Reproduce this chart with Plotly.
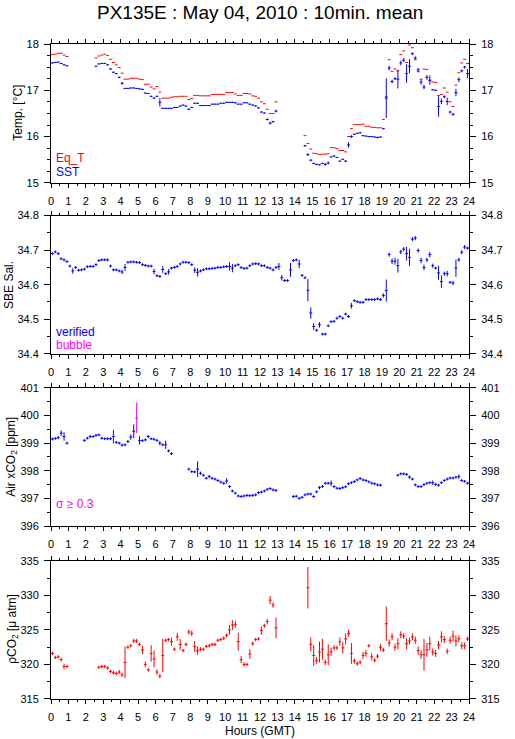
import plotly.graph_objects as go

N = None

# ---------------- data (10-minute means, 144 per day) ----------------
# time axis: centre of each 10-min interval, hours GMT
n_slots = 144
hours = [(i + 0.5) / 6 for i in range(n_slots)]

# Panel 1: equilibrator temperature and SST [degC], one row per hour
eq_t = [
    17.77, 17.78, 17.80, 17.80, 17.76, 17.73,
    N, N, N, N, N, N,
    N, N, N, 17.70, 17.74, 17.76,
    17.78, 17.75, 17.67, 17.60, 17.55, 17.49,
    17.37, 17.24, 17.24, 17.26, 17.26, 17.26,
    17.24, 17.23, 17.13, 17.13, 17.07, 17.03,
    17.08, 16.96, 16.83, 16.83, 16.83, 16.85,
    16.86, 16.86, 16.87, 16.87, 16.87, 16.80,
    16.82, 16.89, 16.89, 16.88, 16.88, 16.88,
    16.88, 16.91, 16.91, 16.91, 16.91, 16.91,
    16.95, 16.95, 16.95, 16.92, 16.89, 16.89,
    16.93, 16.93, 16.92, 16.88, 16.87, 16.83,
    16.75, 16.71, 16.59, 16.50, 16.50, 16.75,
    N, N, N, N, N, N,
    N, N, N, 16.02, 15.85, 15.73,
    15.64, 15.63, 15.61, 15.62, 15.62, 15.63,
    15.76, 15.76, 15.74, 15.70, 15.70, 15.67,
    16.00, 16.17, 16.26, 16.26, 16.26, 16.27,
    16.22, 16.22, 16.20, 16.20, 16.19, 16.19,
    16.37, 16.86, 17.66, 17.41, 17.46, 17.42,
    17.77, 17.85, 17.60, 17.98, 17.92, 17.66,
    17.40, 17.24, 17.46, 17.45, 17.21, 17.18,
    17.17, 16.89, 16.91, 17.05, 16.96, 16.75,
    16.65, 17.11, 17.38, 17.59, 17.67, 17.58,
]

sst = [
    17.59, 17.60, 17.61, 17.58, 17.55, 17.53,
    N, N, N, N, N, N,
    N, N, N, 17.52, 17.57, 17.58,
    17.58, 17.55, 17.46, 17.39, 17.36, 17.28,
    17.15, 17.04, 17.04, 17.05, 17.05, 17.04,
    17.03, 17.02, 16.94, 16.93, 16.87, 16.83,
    16.87, 16.74, 16.61, 16.61, 16.61, 16.61,
    16.63, 16.63, 16.66, 16.68, 16.66, 16.59,
    16.63, 16.72, 16.72, 16.67, 16.67, 16.67,
    16.67, 16.70, 16.70, 16.70, 16.72, 16.72,
    16.74, 16.74, 16.74, 16.73, 16.70, 16.70,
    16.73, 16.73, 16.70, 16.68, 16.66, 16.62,
    16.53, 16.51, 16.37, 16.29, 16.32, 16.55,
    N, N, N, N, N, N,
    N, N, N, 15.80, 15.61, 15.49,
    15.42, 15.40, 15.39, 15.42, 15.40, 15.43,
    15.56, 15.58, 15.55, 15.47, 15.51, 15.47,
    15.82, 16.00, 16.05, 16.07, 16.08, 16.02,
    16.01, 16.00, 16.00, 15.99, 15.98, 15.99,
    16.17, 16.83, 17.48, 17.19, 17.25, 17.24,
    17.59, 17.65, 17.36, 17.52, 17.79, 17.70,
    17.44, 17.18, 17.07, 17.28, 17.22, 17.01,
    17.00, 16.65, 16.76, 16.86, 16.76, 16.53,
    16.48, 16.95, 17.23, 17.42, 17.50, 17.36,
]

sst_sd = [
    .012, .012, .012, .012, .012, .012,
    0, 0, 0, 0, 0, 0,
    0, 0, 0, .012, .012, .012,
    .012, .012, .015, .012, .012, .02,
    .03, .012, .012, .012, .012, .012,
    .012, .012, .012, .012, .012, .012,
    .012, .09, .012, .012, .012, .012,
    .012, .012, .012, .012, .012, .02,
    .012, .012, .012, .012, .012, .012,
    .012, .012, .012, .012, .012, .012,
    .012, .012, .012, .012, .012, .012,
    .012, .012, .012, .012, .012, .012,
    .012, .012, .02, .03, .02, .03,
    0, 0, 0, 0, 0, 0,
    0, 0, 0, .02, .03, .02,
    .012, .012, .012, .012, .03, .03,
    .012, .012, .012, .012, .012, .02,
    .06, .03, .012, .012, .012, .012,
    .012, .012, .012, .012, .02, .012,
    .012, .43, .05, .04, .03, .2,
    .05, .04, .2, .15, .03, .03,
    .04, .06, .05, .05, .1, .012,
    .012, .22, .06, .03, .08, .03,
    .03, .08, .05, .03, .03, .1,
]

# Panel 2: SBE salinity
sal = [
    34.690, 34.695, 34.690, 34.675, 34.672, 34.667,
    34.654, 34.640, 34.650, 34.642, 34.643, 34.645,
    34.652, 34.653, 34.653, 34.658, 34.670, 34.672,
    34.672, 34.672, 34.654, 34.643, 34.643, 34.640,
    34.637, 34.650, 34.665, 34.666, 34.666, 34.665,
    34.664, 34.658, 34.656, 34.654, 34.654, 34.638,
    34.626, 34.624, 34.644, 34.632, 34.637, 34.648,
    34.650, 34.653, 34.660, 34.665, 34.665, 34.664,
    34.658, 34.642, 34.636, 34.640, 34.643, 34.646,
    34.646, 34.647, 34.648, 34.650, 34.650, 34.652,
    34.653, 34.653, 34.648, 34.655, 34.658, 34.650,
    34.647, 34.648, 34.655, 34.660, 34.661, 34.660,
    34.655, 34.655, 34.650, 34.648, 34.643, 34.650,
    34.653, 34.620, 34.612, 34.612, 34.643, 34.670,
    34.672, 34.660, 34.627, 34.620, 34.584, 34.518,
    34.479, 34.468, 34.484, 34.457, 34.457, 34.481,
    34.493, 34.494, 34.503, 34.508, 34.503, 34.515,
    34.508, 34.539, 34.554, 34.551, 34.549, 34.549,
    34.557, 34.557, 34.557, 34.557, 34.559, 34.557,
    34.569, 34.583, 34.687, 34.668, 34.668, 34.655,
    34.695, 34.703, 34.690, 34.679, 34.732, 34.735,
    34.699, 34.670, 34.650, 34.672, 34.687, 34.655,
    34.648, 34.634, 34.609, 34.632, 34.632, 34.607,
    34.605, 34.648, 34.672, 34.694, 34.709, 34.706,
]

sal_sd = [
    .004, .004, .004, .004, .004, .004,
    .004, .008, .004, .004, .004, .004,
    .004, .004, .004, .004, .004, .004,
    .004, .004, .004, .004, .004, .004,
    .006, .01, .004, .004, .004, .004,
    .004, .004, .004, .004, .004, .008,
    .004, .004, .01, .004, .008, .004,
    .004, .004, .004, .004, .004, .004,
    .004, .008, .012, .004, .004, .004,
    .004, .004, .004, .004, .004, .004,
    .004, .012, .012, .004, .004, .004,
    .004, .004, .004, .004, .004, .004,
    .004, .004, .004, .004, .004, .004,
    .01, .008, .004, .004, .02, .004,
    .004, .012, .004, .004, .032, .016,
    .01, .004, .008, .004, .004, .004,
    .004, .004, .004, .004, .004, .004,
    .004, .008, .004, .004, .004, .004,
    .004, .004, .004, .004, .004, .004,
    .006, .032, .006, .008, .01, .02,
    .006, .006, .02, .025, .006, .006,
    .006, .008, .008, .006, .008, .006,
    .004, .02, .018, .006, .008, .004,
    .006, .025, .006, .006, .006, .004,
]

# Panel 3: atmospheric xCO2 [ppm]
xco2 = [
    399.15, 399.17, 399.20, 399.36, 399.24, 399.00,
    N, N, N, N, N, 399.10,
    399.18, 399.24, 399.24, 399.28, 399.30, 399.18,
    399.16, 399.16, 399.16, 399.24, 399.03, 399.00,
    398.93, 398.94, 399.06, 399.22, 399.43, 399.91,
    399.10, 399.09, 399.12, 399.24, 399.16, 399.14,
    399.10, 399.00, 398.94, 398.94, 398.72, 398.62,
    N, N, N, N, N, 398.06,
    397.97, 397.96, 398.06, 397.91, 397.84, 397.73,
    397.79, 397.73, 397.70, 397.65, 397.59, 397.55,
    397.63, 397.43, 397.27, 397.19, 397.09, 397.07,
    397.09, 397.11, 397.10, 397.11, 397.13, 397.21,
    397.23, 397.27, 397.33, 397.36, 397.31, 397.29,
    N, N, N, N, N, 397.07,
    397.08, 397.00, 397.04, 397.13, 397.16, 397.16,
    397.07, 397.24, 397.39, 397.43, 397.55, 397.55,
    397.55, 397.43, 397.37, 397.36, 397.39, 397.42,
    397.53, 397.57, 397.61, 397.67, 397.72, 397.67,
    397.65, 397.60, 397.55, 397.53, 397.49, 397.48,
    N, N, N, N, N, 397.84,
    397.89, 397.89, 397.87, 397.77, 397.70, 397.49,
    397.43, 397.43, 397.50, 397.55, 397.57, 397.57,
    397.51, 397.48, 397.57, 397.65, 397.70, 397.74,
    397.74, 397.77, 397.79, 397.65, 397.62, 397.55,
]

xco2_sd = [
    .05, .05, .06, .1, .15, .05,
    0, 0, 0, 0, 0, .05,
    .05, .06, .05, .05, .05, .05,
    .05, .05, .05, .25, .05, .05,
    .05, .05, .06, .1, .25, .55,
    .15, .05, .05, .06, .05, .05,
    .05, .08, .05, .15, .05, .05,
    0, 0, 0, 0, 0, .05,
    .05, .05, .28, .06, .05, .05,
    .06, .05, .05, .05, .05, .05,
    .1, .05, .05, .05, .05, .05,
    .05, .05, .05, .05, .05, .05,
    .05, .05, .05, .05, .05, .05,
    0, 0, 0, 0, 0, .05,
    .05, .05, .05, .05, .05, .05,
    .05, .05, .06, .05, .05, .05,
    .1, .05, .05, .05, .05, .05,
    .05, .05, .05, .05, .05, .05,
    .05, .05, .05, .05, .05, .05,
    0, 0, 0, 0, 0, .05,
    .05, .05, .05, .06, .05, .05,
    .05, .05, .05, .05, .05, .08,
    .05, .05, .05, .05, .05, .05,
    .05, .05, .08, .05, .05, .05,
]
sigma_limit = 0.3

# Panel 4: seawater pCO2 [uatm]
pco2 = [
    321.6, 321.0, 321.1, 320.7, 319.7, 319.7,
    N, N, N, N, N, N,
    N, N, N, N, 319.6, 319.7,
    319.7, 319.5, 319.0, 318.8, 318.7, 318.9,
    318.5, 320.3, 322.5, 322.7, 323.4, 323.4,
    322.9, 322.1, 320.0, 319.2, 321.6, 320.8,
    318.9, 318.3, 321.3, 323.5, 323.6, 323.3,
    322.2, 324.0, 322.9, 322.0, 322.9, 324.7,
    324.5, 322.6, 322.0, 322.2, 322.2, 322.6,
    322.7, 322.9, 322.9, 323.5, 323.6, 323.8,
    324.2, 325.0, 325.7, 325.8, 323.3, 320.7,
    320.0, 320.0, 321.5, 323.0, 323.6, 323.7,
    324.9, 325.6, 326.2, 329.3, 328.6, 325.3,
    N, N, N, N, N, N,
    N, N, N, N, 331.1, 322.9,
    321.3, 320.6, 321.8, 322.2, 320.3, 321.4,
    321.8, 322.4, 322.4, 323.3, 322.4, 323.7,
    324.5, 321.6, 320.5, 320.1, 320.3, 321.3,
    321.6, 322.7, 321.1, 320.6, 321.2, 322.5,
    322.1, 325.9, 323.1, 324.0, 322.5, 323.0,
    324.3, 324.1, 323.0, 323.4, 324.0, 323.5,
    322.0, 321.4, 321.4, 322.1, 323.0, 321.8,
    321.6, 322.8, 324.0, 323.6, 321.9, 323.5,
    324.1, 323.4, 323.7, 322.7, 322.7, 323.7,
]

pco2_sd = [
    .25, .25, .25, .3, .4, .25,
    0, 0, 0, 0, 0, 0,
    0, 0, 0, 0, .25, .25,
    .25, .25, .25, .25, .25, .3,
    .3, 2.3, .25, .25, .3, .3,
    .25, .6, .4, .25, 1.2, 1.2,
    .4, .3, 2.4, .25, .25, .6,
    .25, .6, .8, .25, .25, .4,
    .4, .8, .6, .3, .25, .25,
    .25, .25, .25, .25, .25, .25,
    .3, .7, .7, .5, 1.3, .5,
    .3, .25, .7, .3, .25, .25,
    .6, .3, .4, .6, .4, 1.5,
    0, 0, 0, 0, 0, 0,
    0, 0, 0, 0, 3.0, 1.0,
    1.5, .5, 1.5, 1.5, .4, 1.5,
    .6, .4, .3, .6, .8, .8,
    .5, 1.5, .4, .3, .3, .5,
    .5, .25, .5, .3, .3, .5,
    .3, 2.5, .5, .5, .5, .8,
    .5, .4, .8, .5, .5, .5,
    .6, .6, 2.3, 1.0, 1.0, .5,
    .5, .6, .8, .5, .4, .5,
    .8, .8, .5, .5, .5, .3,
]

x_ticks = list(range(0, 25))

# ---------------- figure ----------------
RED, BLUE, MAG = "#ff0000", "#0000ff", "#ff00ff"
FONT = "Liberation Sans, Arial, Helvetica, sans-serif"
W, H = 515, 739
ML, MR, MT, MB = 51, 37, 44, 40
PW, PH = W - ML - MR, H - MT - MB


def px_x(p):
    return (p - ML) / PW


def px_y(p):
    return (H - MB - p) / PH


half_slot = 1 / 12  # 5 minutes, in hours

fig = go.Figure()


def add_series(y, sd, color, xa, ya):
    err_y = dict(type="data", array=sd, visible=True, color=color,
                 thickness=1, width=0) if sd is not None else dict(visible=False)
    fig.add_trace(go.Scatter(
        x=hours, y=y, mode="markers", xaxis=xa, yaxis=ya,
        marker=dict(size=0.1, color=color),
        error_x=dict(type="constant", value=half_slot, color=color,
                     thickness=1, width=0),
        error_y=err_y, showlegend=False, hoverinfo="x+y"))


add_series(eq_t, None, RED, "x", "y")
add_series(sst, sst_sd, BLUE, "x", "y")
add_series(sal, sal_sd, BLUE, "x2", "y2")
xco2_ok = [v if (v is not None and s < sigma_limit) else None for v, s in zip(xco2, xco2_sd)]
xco2_hi = [v if (v is not None and s >= sigma_limit) else None for v, s in zip(xco2, xco2_sd)]
add_series(xco2_ok, xco2_sd, BLUE, "x3", "y3")
add_series(xco2_hi, xco2_sd, MAG, "x3", "y3")
add_series(pco2, pco2_sd, RED, "x4", "y4")

# dummy traces so the right-hand mirrored axes are drawn
for i in range(4):
    fig.add_trace(go.Scatter(x=[None], y=[None], xaxis="x" if i == 0 else f"x{i+1}",
                             yaxis=f"y{i+5}", showlegend=False, hoverinfo="skip"))

domains = [[0.788, 1.0], [0.527, 0.738], [0.264, 0.475], [0.0, 0.211]]
yranges = [[15, 18], [34.4, 34.8], [396, 401], [315, 335]]
ydticks = [1, 0.1, 1, 5]
yminor = [0.25, 0.05, 0.5, 2.5]
yfmt = ["d", ".1f", "d", "d"]

tickfont = dict(family=FONT, size=11, color="black")
layout = dict(
    width=W, height=H, margin=dict(l=ML, r=MR, t=MT, b=MB),
    paper_bgcolor="white", plot_bgcolor="white", showlegend=False,
    font=dict(family=FONT, color="black"),
)

for i in range(4):
    xn = "xaxis" if i == 0 else f"xaxis{i+1}"
    yn = "yaxis" if i == 0 else f"yaxis{i+1}"
    ya_ref = "y" if i == 0 else f"y{i+1}"
    xa_ref = "x" if i == 0 else f"x{i+1}"
    layout[xn] = dict(
        domain=[0, 1], anchor=ya_ref, range=[0, 24], tick0=0, dtick=1,
        tickvals=x_ticks,
        ticks="outside", ticklen=4, tickwidth=1, tickcolor="black",
        showline=True, linecolor="black", linewidth=1, mirror="ticks",
        showgrid=False, zeroline=False, tickfont=tickfont, ticklabelstandoff=4,
        minor=dict(tickvals=[t + 0.5 for t in x_ticks[:-1]], ticks="outside", ticklen=2, tickwidth=1,
                   tickcolor="black", showgrid=False),
        fixedrange=True,
    )
    common_y = dict(
        domain=domains[i], range=yranges[i], tick0=yranges[i][0], dtick=ydticks[i],
        tickformat=yfmt[i], ticks="outside", ticklen=6, tickwidth=1, tickcolor="black",
        showgrid=False, zeroline=False, tickfont=tickfont, ticklabelstandoff=3,
        minor=dict(dtick=yminor[i], ticks="outside", ticklen=3, tickwidth=1,
                   tickcolor="black", showgrid=False),
        fixedrange=True,
    )
    layout[yn] = dict(common_y, anchor=xa_ref, showline=True, linecolor="black",
                      linewidth=1, mirror=True, side="left")
    layout[f"yaxis{i+5}"] = dict(common_y, anchor=xa_ref, overlaying=ya_ref,
                                 side="right", showline=False)

fig.update_layout(**layout)

ann = []


def add_text(text, xp, yp, color="black", size=12, angle=0, xanchor="center"):
    ann.append(dict(text=text, x=px_x(xp), y=px_y(yp), xref="paper", yref="paper",
                    showarrow=False, textangle=angle, xanchor=xanchor, yanchor="middle",
                    font=dict(family=FONT, size=size, color=color)))


add_text("PX135E : May 04, 2010 : 10min. mean", 264, 12, size=19)
add_text("Temp. [°C]", 17, 113, angle=-90)
add_text("SBE Sal.", 8, 285, angle=-90)
add_text("Air xCO<sub>2</sub> [ppm]", 11, 457, angle=-90)
add_text("ρCO<sub>2</sub> [μ atm]", 12, 629, angle=-90)
add_text("Eq_T", 54, 158, color=RED, xanchor="left")
add_text("SST", 54, 172, color=BLUE, xanchor="left")
add_text("verified", 54, 332, color=BLUE, xanchor="left")
add_text("bubble", 54, 345, color=MAG, xanchor="left")
add_text("σ ≥ 0.3", 54, 504, color=MAG, xanchor="left")
add_text("Hours (GMT)", 264, 731, size=12)

fig.update_layout(annotations=ann)
fig.write_html(
    "out.html",
    config={"displayModeBar": False},
    post_script="document.body.style.margin='0';document.body.style.overflow='hidden';",
)
